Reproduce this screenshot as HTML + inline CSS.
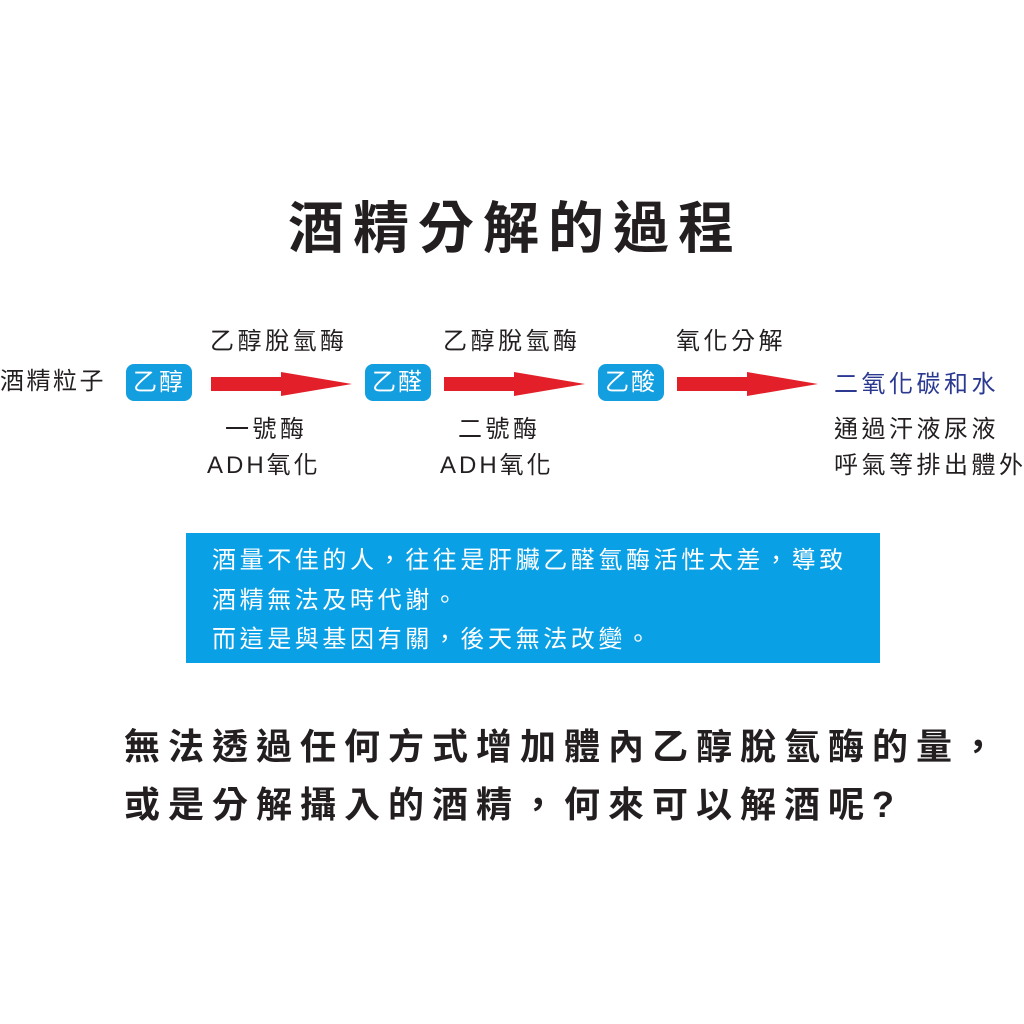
<!DOCTYPE html>
<html><head><meta charset="utf-8"><style>
body{margin:0;width:1024px;height:1024px;background:#fff;position:relative;overflow:hidden;font-family:"Liberation Sans","Noto Sans CJK TC",sans-serif;color:#231f20}
.a{position:absolute;white-space:nowrap;line-height:1}
.pill{position:absolute;background:#139ee0;color:#fff;border-radius:8px;width:66px;height:37px;font-size:24px;line-height:37px;text-align:center;letter-spacing:2px}
.ar{position:absolute;width:141px;height:24px}
.t{font-size:24px;letter-spacing:3.5px}
.w{color:#fff;font-size:24px;letter-spacing:3.6px}
</style></head><body>
<div class="a" style="left:288px;top:201px;font-size:56px;font-weight:bold;letter-spacing:9px">酒精分解的過程</div>

<div class="a t" style="left:210px;top:330px">乙醇脫氫酶</div>
<div class="a t" style="left:443px;top:330px">乙醇脫氫酶</div>
<div class="a t" style="left:676px;top:330px">氧化分解</div>

<div class="a t" style="left:0px;top:370px;letter-spacing:2.5px">酒精粒子</div>
<div class="pill" style="left:126px;top:364px">乙醇</div>
<div class="pill" style="left:365px;top:364px">乙醛</div>
<div class="pill" style="left:598px;top:364px">乙酸</div>

<svg class="ar" style="left:211px;top:372px" viewBox="0 0 141 24"><path d="M0 5H70V0L141 12L70 24V19H0Z" fill="#e3202a"/></svg>
<svg class="ar" style="left:444px;top:372px" viewBox="0 0 141 24"><path d="M0 5H70V0L141 12L70 24V19H0Z" fill="#e3202a"/></svg>
<svg class="ar" style="left:677px;top:372px" viewBox="0 0 141 24"><path d="M0 5H70V0L141 12L70 24V19H0Z" fill="#e3202a"/></svg>

<div class="a t" style="left:834px;top:373px;color:#2b3990">二氧化碳和水</div>
<div class="a t" style="left:834px;top:418px">通過汗液尿液</div>
<div class="a t" style="left:834px;top:454px">呼氣等排出體外</div>

<div class="a t" style="left:225px;top:418px">一號酶</div>
<div class="a t" style="left:207px;top:454px;letter-spacing:3px">ADH氧化</div>
<div class="a t" style="left:458px;top:418px">二號酶</div>
<div class="a t" style="left:440px;top:454px;letter-spacing:3px">ADH氧化</div>

<div style="position:absolute;left:186px;top:533px;width:694px;height:130px;background:#0aa0e6"></div>
<div class="a w" style="left:212px;top:549px">酒量不佳的人，往往是肝臟乙醛氫酶活性太差，導致</div>
<div class="a w" style="left:212px;top:589px">酒精無法及時代謝。</div>
<div class="a w" style="left:212px;top:628px">而這是與基因有關，後天無法改變。</div>

<div class="a" style="left:124px;top:729px;font-size:36px;font-weight:bold;letter-spacing:8px">無法透過任何方式增加體內乙醇脫氫酶的量，</div>
<div class="a" style="left:124px;top:787px;font-size:36px;font-weight:bold;letter-spacing:8px">或是分解攝入的酒精，何來可以解酒呢?</div>
</body></html>
